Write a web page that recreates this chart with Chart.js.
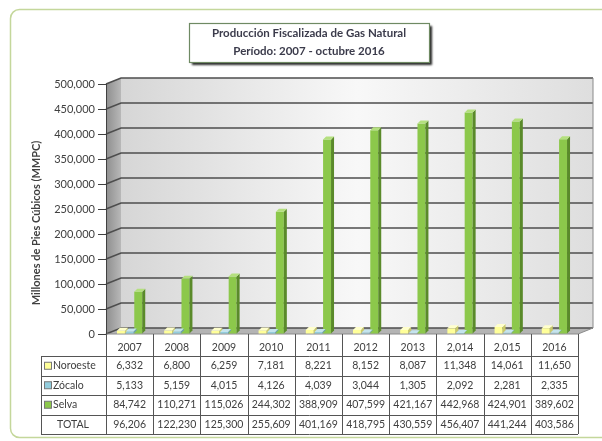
<!DOCTYPE html>
<html>
<head>
<meta charset="utf-8">
<script src="https://cdn.jsdelivr.net/npm/chart.js@4.4.0/dist/chart.umd.min.js"></script>
<style>
  html, body { margin: 0; padding: 0; background: #fff; }
</style>
</head>
<body>
<canvas id="gasChart" width="602" height="441"></canvas>
<script>
// ===== datos =====
const anios    = ['2007', '2008', '2009', '2010', '2011', '2012', '2013', '2,014', '2,015', '2016'];
const noroeste = [6332, 6800, 6259, 7181, 8221, 8152, 8087, 11348, 14061, 11650];
const zocalo   = [5133, 5159, 4015, 4126, 4039, 3044, 1305, 2092, 2281, 2335];
const selva    = [84742, 110271, 115026, 244302, 388909, 407599, 421167, 442968, 424901, 389602];
const totales  = [96206, 122230, 125300, 255609, 401169, 418795, 430559, 456407, 441244, 403586];
const series   = ['Noroeste', 'Zócalo', 'Selva'];

// colores: frente, lado, tapa
const colores = [
    ['#ffff99', '#c9c96a', '#ffffcc'],
    ['#93cddd', '#6a9fae', '#c4e4ee'],
    ['#8cc84b', '#5a8a2a', '#b4e07e']
];

const fmt = v => v.toLocaleString('en-US');
const fuente = 'Lato, "Open Sans", sans-serif';

// desplazamiento 3D de la pared del fondo
const DX = 15, DY = -6;

// ===== fondo 3D: pared lateral, pared del fondo, piso y lineas =====
const fondo3d = {
    id: 'fondo3d',
    beforeDraw(chart) {
        const c = chart.ctx, a = chart.chartArea, y = chart.scales.y;
        c.save();

        // marco exterior redondeado
        c.strokeStyle = '#c4d79b';
        c.lineWidth = 1.5;
        c.beginPath();
        c.roundRect(10.5, 9.5, 640, 428, 9);
        c.stroke();

        // pared del fondo
        const g = c.createLinearGradient(a.left + DX, 0, a.right + DX, 0);
        g.addColorStop(0, '#d6d6d6');
        g.addColorStop(0.5, '#f8f8f8');
        g.addColorStop(1, '#dedede');
        c.fillStyle = g;
        c.fillRect(a.left + DX, a.top + DY, a.right - a.left, a.bottom - a.top);

        // pared lateral
        const gl = c.createLinearGradient(a.left, 0, a.left + DX, 0);
        gl.addColorStop(0, '#8e8e8e');
        gl.addColorStop(1, '#b8b8b8');
        c.fillStyle = gl;
        c.beginPath();
        c.moveTo(a.left, a.top);
        c.lineTo(a.left + DX, a.top + DY);
        c.lineTo(a.left + DX, a.bottom + DY);
        c.lineTo(a.left, a.bottom);
        c.closePath();
        c.fill();

        // piso
        c.fillStyle = '#b4b4b4';
        c.beginPath();
        c.moveTo(a.left, a.bottom);
        c.lineTo(a.left + DX, a.bottom + DY);
        c.lineTo(a.right + DX, a.bottom + DY);
        c.lineTo(a.right, a.bottom);
        c.closePath();
        c.fill();

        // lineas de division
        c.strokeStyle = '#4d4d4d';
        c.lineWidth = 1.6;
        y.ticks.forEach(t => {
            const py = y.getPixelForValue(t.value);
            c.beginPath();
            c.moveTo(a.left, py);
            c.lineTo(a.left + DX, py + DY);
            c.lineTo(a.right + DX, py + DY);
            c.stroke();
        });

        // borde derecho de la pared y borde del piso
        c.lineWidth = 1;
        c.strokeStyle = '#8a8a8a';
        c.beginPath();
        c.moveTo(a.right + DX, a.top + DY);
        c.lineTo(a.right + DX, a.bottom + DY);
        c.lineTo(a.right, a.bottom);
        c.lineTo(a.left, a.bottom);
        c.stroke();
        c.restore();
    }
};

// ===== caras laterales y superiores de las barras =====
const barras3d = {
    id: 'barras3d',
    afterDatasetsDraw(chart) {
        const c = chart.ctx;
        const d = 3;
        c.save();
        chart.data.datasets.forEach((ds, i) => {
            chart.getDatasetMeta(i).data.forEach(bar => {
                const p = bar.getProps(['x', 'y', 'base', 'width'], true);
                const xl = p.x - p.width / 2, xr = p.x + p.width / 2;
                c.fillStyle = colores[i][1];
                c.beginPath();
                c.moveTo(xr, p.y);
                c.lineTo(xr + d, p.y - d);
                c.lineTo(xr + d, p.base - d);
                c.lineTo(xr, p.base);
                c.closePath();
                c.fill();
                c.fillStyle = colores[i][2];
                c.beginPath();
                c.moveTo(xl, p.y);
                c.lineTo(xl + d, p.y - d);
                c.lineTo(xr + d, p.y - d);
                c.lineTo(xr, p.y);
                c.closePath();
                c.fill();
            });
        });
        c.restore();
    }
};

// ===== titulo, titulo del eje y tabla de datos =====
const textos = {
    id: 'textos',
    afterDraw(chart) {
        const c = chart.ctx, a = chart.chartArea, x = chart.scales.x;
        c.save();

        // caja del titulo con sombra
        c.shadowColor = 'rgba(0,0,0,0.85)';
        c.shadowOffsetX = 3;
        c.shadowOffsetY = 3;
        c.shadowBlur = 2;
        c.fillStyle = '#ffffff';
        c.fillRect(189, 23, 240, 39);
        c.shadowColor = 'transparent';
        c.strokeStyle = '#6f8a63';
        c.lineWidth = 1.2;
        c.strokeRect(189.5, 23.5, 240, 39);
        c.fillStyle = '#3b3b4b';
        c.font = 'bold 11.5px ' + fuente;
        c.textAlign = 'center';
        c.textBaseline = 'middle';
        c.fillText('Producción Fiscalizada de Gas Natural', 309, 33);
        c.fillText('Período: 2007 - octubre 2016', 309, 51);

        // titulo del eje Y
        c.save();
        c.translate(36, 223);
        c.rotate(-Math.PI / 2);
        c.fillStyle = '#404040';
        c.font = 'bold 11px ' + fuente;
        c.fillText('Millones de Pies Cúbicos (MMPC)', 0, 0);
        c.restore();

        // tabla de datos
        const filas = [356, 375.5, 395, 414.5, 434];
        const colW = (a.right - a.left) / anios.length;
        const izq = 41;
        c.strokeStyle = '#555555';
        c.lineWidth = 1;
        c.beginPath();
        // lineas horizontales
        filas.forEach(fy => {
            c.moveTo(izq, Math.round(fy) + 0.5);
            c.lineTo(a.right, Math.round(fy) + 0.5);
        });
        // lineas verticales de las columnas
        for (let i = 0; i <= anios.length; i++) {
            const vx = Math.round(a.left + i * colW) + 0.5;
            c.moveTo(vx, a.bottom);
            c.lineTo(vx, filas[4]);
        }
        c.moveTo(izq + 0.5, filas[0]);
        c.lineTo(izq + 0.5, filas[4]);
        c.stroke();

        c.fillStyle = '#404040';
        c.font = '10.5px ' + fuente;
        c.textAlign = 'center';
        const valores = [noroeste, zocalo, selva, totales];
        anios.forEach((an, i) => {
            const cx = x.getPixelForValue(i);
            c.fillText(an, cx, 348);
            valores.forEach((fila, k) => {
                c.fillText(fmt(fila[i]), cx, (filas[k] + filas[k + 1]) / 2);
            });
        });

        // etiquetas de las series con su clave de color
        c.textAlign = 'left';
        series.forEach((s, k) => {
            const cy = (filas[k] + filas[k + 1]) / 2;
            c.fillStyle = colores[k][0];
            c.fillRect(44, cy - 3.5, 7, 7);
            c.strokeStyle = '#777777';
            c.strokeRect(44.5, cy - 3.5, 7, 7);
            c.fillStyle = '#404040';
            c.fillText(s, 53, cy);
        });
        c.textAlign = 'center';
        c.fillText('TOTAL', 73, (filas[3] + filas[4]) / 2);
        c.restore();
    }
};

// ===== grafico =====
const ctx = document.getElementById('gasChart').getContext('2d');

new Chart(ctx, {
    type: 'bar',
    data: {
        labels: anios,
        datasets: [
            { label: series[0], data: noroeste, backgroundColor: colores[0][0] },
            { label: series[1], data: zocalo,   backgroundColor: colores[1][0] },
            { label: series[2], data: selva,    backgroundColor: colores[2][0] }
        ]
    },
    options: {
        responsive: false,
        animation: false,
        layout: { padding: { left: 0, top: 84, right: 24, bottom: 107 } },
        datasets: { bar: { categoryPercentage: 0.55, barPercentage: 0.92 } },
        plugins: {
            legend: { display: false },
            tooltip: { enabled: false },
            title: { display: false }
        },
        scales: {
            x: { display: false },
            y: {
                min: 0,
                max: 500000,
                ticks: {
                    stepSize: 50000,
                    color: '#404040',
                    padding: 3,
                    font: { family: fuente, size: 11 },
                    callback: v => fmt(v)
                },
                grid: { drawOnChartArea: false, color: '#404040', tickLength: 8 },
                border: { color: '#404040' },
                afterFit: s => { s.width = 106; }
            }
        }
    },
    plugins: [fondo3d, barras3d, textos]
});
</script>
</body>
</html>
